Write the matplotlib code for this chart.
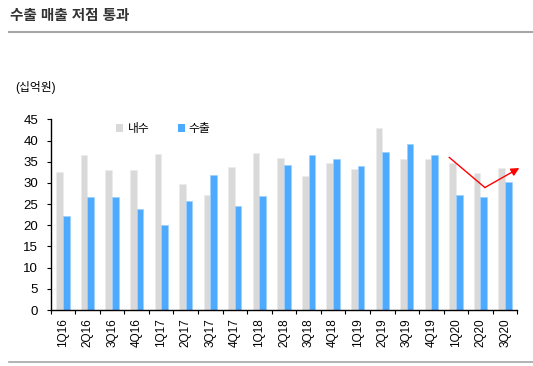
import matplotlib.pyplot as plt
from matplotlib.patches import Patch
from matplotlib.lines import Line2D
import numpy as np

plt.rcParams['font.family'] = ['Liberation Sans', 'Noto Sans CJK KR']

quarters = ['1Q16', '2Q16', '3Q16', '4Q16', '1Q17', '2Q17', '3Q17', '4Q17',
            '1Q18', '2Q18', '3Q18', '4Q18', '1Q19', '2Q19', '3Q19', '4Q19',
            '1Q20', '2Q20', '3Q20']
domestic = [32.6, 36.6, 33.0, 33.0, 36.8, 29.7, 27.1, 33.7, 37.1, 35.9,
            31.6, 34.6, 33.2, 42.9, 35.6, 35.6, 34.6, 32.4, 33.5]
export = [22.2, 26.6, 26.6, 23.8, 20.0, 25.8, 31.9, 24.6, 26.9, 34.3,
          36.6, 35.6, 34.0, 37.4, 39.2, 36.6, 27.1, 26.6, 30.2]
trend_x = [15.73, 17.18, 18.58]
trend_y = [36.0, 28.9, 33.5]

gray = '#D9D9D9'
blue = '#4DAAFF'

fig = plt.figure(figsize=(5.33, 3.66), dpi=100)
ax = fig.add_axes([0.095, 0.153, 0.8756, 0.521])

x = np.arange(len(quarters))
w = 0.27
ax.bar(x - w / 2, domestic, w, color=gray, edgecolor='#ECECEC', linewidth=0.5)
ax.bar(x + w / 2, export, w, color=blue, edgecolor='#9DD0FF', linewidth=0.5)

ax.set_xlim(-0.5, len(quarters) - 0.5)
ax.set_ylim(0, 45)
ax.set_yticks(range(0, 46, 5))
ax.set_xticks(x)
ax.set_xticklabels(quarters, rotation=90, fontsize=8.5)
ax.set_xticks(np.arange(-0.5, len(quarters), 1), minor=True)
ax.tick_params(axis='x', which='major', length=0, pad=6)
ax.tick_params(axis='x', which='minor', length=3, direction='out', width=0.8)
ax.tick_params(axis='y', labelsize=9.5, length=3, width=0.8, pad=6)
for s in ['top', 'right']:
    ax.spines[s].set_visible(False)
ax.spines['left'].set_linewidth(1.0)
ax.spines['bottom'].set_linewidth(1.0)

# red trend arrow
ax.plot(trend_x[:2], trend_y[:2], color='red', lw=1, clip_on=False)
ax.annotate('', xy=(trend_x[2], trend_y[2]), xytext=(trend_x[1], trend_y[1]),
            arrowprops=dict(arrowstyle='-|>', color='red', lw=1,
                            mutation_scale=12, shrinkA=0, shrinkB=0),
            annotation_clip=False)

handles = [Patch(facecolor=gray, edgecolor='none', label='내수'),
           Patch(facecolor=blue, edgecolor='none', label='수출')]
ax.legend(handles=handles, loc='upper left', bbox_to_anchor=(0.118, 1.035),
          ncol=2, frameon=False, handlelength=0.6, handleheight=0.6,
          handletextpad=0.35, columnspacing=2.4, fontsize=8.5)

fig.text(0.019, 0.955, '수출 매출 저점 통과', fontsize=10.5, fontweight='bold',
         color='#333333', va='center')
fig.add_artist(Line2D([0.017, 1.0], [0.912, 0.912], color='#A6A6A6', lw=1.5))
fig.add_artist(Line2D([0.017, 1.0], [0.011, 0.011], color='#A6A6A6', lw=1.2))
fig.text(0.028, 0.76, '(십억원)', fontsize=8.5, va='center')

fig.savefig('out.png', dpi=100)
